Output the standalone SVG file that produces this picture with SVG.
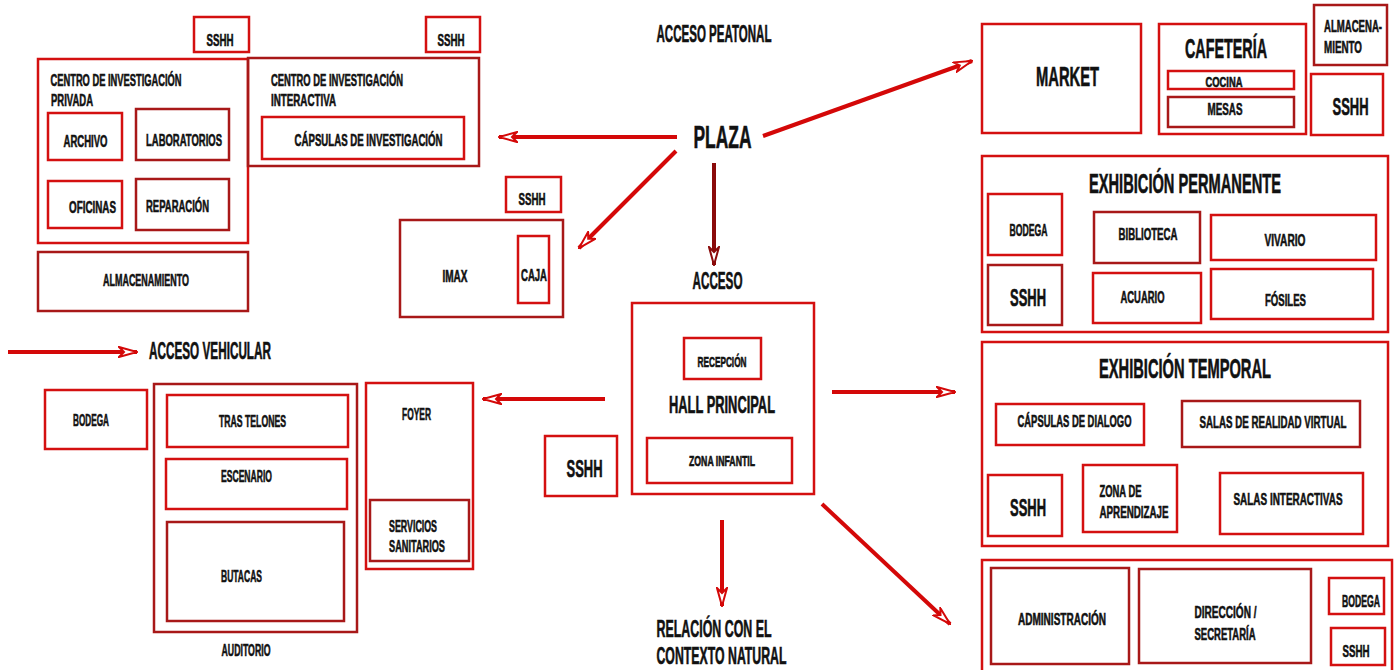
<svg xmlns="http://www.w3.org/2000/svg" width="1399" height="670" viewBox="0 0 1399 670">
<style>
rect{fill:none;stroke:#d41010;stroke-width:2.5}
rect.d{stroke:#a81818}
text{font-family:"Liberation Sans Narrow","Liberation Sans",Arial,sans-serif;font-weight:bold;fill:#111;stroke:#111;stroke-width:0.6;text-anchor:middle}
.s{font-size:17px}
.xs{font-size:14px}
.m{font-size:23px}
.l{font-size:27px}
.xl{font-size:31px}
.arr{stroke:#d40808;stroke-width:4;fill:none;marker-end:url(#ah)}
.arr2{stroke:#8a0a0a;stroke-width:4;fill:none;marker-end:url(#ah2)}
</style>
<defs>
<marker id="ah" viewBox="0 0 20 12" refX="19" refY="6" markerWidth="20" markerHeight="12" markerUnits="userSpaceOnUse" orient="auto">
<path d="M1,1 L19,6 L1,11 L6,6 Z" fill="#fff" stroke="#d40808" stroke-width="2"/>
</marker>
<marker id="ah2" viewBox="0 0 20 12" refX="19" refY="6" markerWidth="20" markerHeight="12" markerUnits="userSpaceOnUse" orient="auto">
<path d="M1,1 L19,6 L1,11 L6,6 Z" fill="#fff" stroke="#8a0a0a" stroke-width="2"/>
</marker>
</defs>
<rect x="0" y="0" width="1399" height="670" style="fill:#fff;stroke:none"/>

<g id="connectors">
<line class="arr" x1="677" y1="137" x2="499" y2="137"/>
<line class="arr" x1="676" y1="151" x2="579" y2="248"/>
<line class="arr2" x1="714" y1="163" x2="714" y2="265"/>
<line class="arr" x1="763" y1="136" x2="972" y2="61"/>
<line class="arr" x1="8" y1="352" x2="137" y2="352"/>
<line class="arr" x1="605" y1="399" x2="483" y2="399"/>
<line class="arr" x1="832" y1="392" x2="955" y2="392"/>
<line class="arr" x1="722" y1="520" x2="722" y2="606"/>
<line class="arr" x1="822" y1="504" x2="950" y2="624"/>
</g>

<g id="labels">
<text class="m" transform="translate(714,41.5) scale(.6,1)" textLength="191.7" lengthAdjust="spacingAndGlyphs">ACCESO PEATONAL</text>
<text class="xl" transform="translate(722.5,148) scale(.6,1)" textLength="96.7" lengthAdjust="spacingAndGlyphs">PLAZA</text>
<text class="m" transform="translate(717.5,288.5) scale(.6,1)" textLength="83.3" lengthAdjust="spacingAndGlyphs">ACCESO</text>
<text class="m" transform="translate(210,359) scale(.6,1)" textLength="203.3" lengthAdjust="spacingAndGlyphs">ACCESO VEHICULAR</text>
<text class="m" transform="translate(714,636.5) scale(.6,1)" textLength="191.7" lengthAdjust="spacingAndGlyphs">RELACIÓN CON  EL</text>
<text class="m" transform="translate(721.5,664) scale(.6,1)" textLength="216.7" lengthAdjust="spacingAndGlyphs">CONTEXTO NATURAL</text>
</g>

<g id="sshh-privada">
<rect x="194" y="17" width="55" height="35"/>
<text class="s" transform="translate(220,46) scale(.6,1)" textLength="45" lengthAdjust="spacingAndGlyphs">SSHH</text>
</g>
<g id="sshh-interactiva">
<rect x="426" y="17" width="54" height="35"/>
<text class="s" transform="translate(451,46) scale(.6,1)" textLength="45" lengthAdjust="spacingAndGlyphs">SSHH</text>
</g>

<g id="centro-privada">
<rect x="38" y="59" width="210" height="184"/>
<text class="s" transform="translate(116,86) scale(.6,1)" textLength="218.3" lengthAdjust="spacingAndGlyphs">CENTRO DE INVESTIGACIÓN</text>
<text class="s" transform="translate(72,106) scale(.6,1)" textLength="70" lengthAdjust="spacingAndGlyphs">PRIVADA</text>
<g id="archivo"><rect x="48" y="113" width="74" height="47"/>
<text class="s" transform="translate(85.5,147) scale(.6,1)" textLength="73.3" lengthAdjust="spacingAndGlyphs">ARCHIVO</text></g>
<g id="laboratorios"><rect class="d" x="136" y="109" width="93" height="51"/>
<text class="s" transform="translate(184,146) scale(.6,1)" textLength="126.7" lengthAdjust="spacingAndGlyphs">LABORATORIOS</text></g>
<g id="oficinas"><rect x="48" y="181" width="74" height="47"/>
<text class="s" transform="translate(92.5,213) scale(.6,1)" textLength="78.3" lengthAdjust="spacingAndGlyphs">OFICINAS</text></g>
<g id="reparacion"><rect class="d" x="136" y="179" width="93" height="51"/>
<text class="s" transform="translate(177.5,212) scale(.6,1)" textLength="105" lengthAdjust="spacingAndGlyphs">REPARACIÓN</text></g>
</g>

<g id="almacenamiento">
<rect class="d" x="38" y="252" width="210" height="59"/>
<text class="s" transform="translate(146,286) scale(.6,1)" textLength="143.3" lengthAdjust="spacingAndGlyphs">ALMACENAMIENTO</text>
</g>

<g id="centro-interactiva">
<rect class="d" x="248" y="58" width="231" height="108"/>
<text class="s" transform="translate(337,86) scale(.6,1)" textLength="220" lengthAdjust="spacingAndGlyphs">CENTRO DE INVESTIGACIÓN</text>
<text class="s" transform="translate(303.5,106) scale(.6,1)" textLength="108.3" lengthAdjust="spacingAndGlyphs">INTERACTIVA</text>
<g id="capsulas-inv"><rect x="262" y="117" width="202" height="42"/>
<text class="s" transform="translate(368.5,146) scale(.6,1)" textLength="246.7" lengthAdjust="spacingAndGlyphs">CÁPSULAS DE INVESTIGACIÓN</text></g>
</g>

<g id="sshh-imax">
<rect x="506" y="177" width="55" height="35"/>
<text class="s" transform="translate(532,205) scale(.6,1)" textLength="45" lengthAdjust="spacingAndGlyphs">SSHH</text>
</g>
<g id="imax">
<rect class="d" x="400" y="220" width="163" height="97"/>
<text class="s" transform="translate(455,282) scale(.6,1)" textLength="41.7" lengthAdjust="spacingAndGlyphs">IMAX</text>
<g id="caja"><rect x="518" y="236" width="31" height="67"/>
<text class="s" transform="translate(534,281) scale(.6,1)" textLength="43.3" lengthAdjust="spacingAndGlyphs">CAJA</text></g>
</g>

<g id="hall">
<rect x="632" y="303" width="182" height="191"/>
<text class="m" transform="translate(722,413) scale(.6,1)" textLength="176.7" lengthAdjust="spacingAndGlyphs">HALL PRINCIPAL</text>
<g id="recepcion"><rect x="684" y="338" width="77" height="41"/>
<text class="xs" transform="translate(722,366.5) scale(.6,1)" textLength="81.7" lengthAdjust="spacingAndGlyphs">RECEPCIÓN</text></g>
<g id="zona-infantil"><rect x="647" y="438" width="145" height="45"/>
<text class="xs" transform="translate(722,466) scale(.6,1)" textLength="110" lengthAdjust="spacingAndGlyphs">ZONA INFANTIL</text></g>
</g>

<g id="sshh-hall">
<rect x="545" y="436" width="72" height="60"/>
<text class="m" transform="translate(584.5,476.5) scale(.6,1)" textLength="60" lengthAdjust="spacingAndGlyphs">SSHH</text>
</g>

<g id="bodega-aud">
<rect x="45" y="390" width="102" height="59"/>
<text class="s" transform="translate(91,426) scale(.6,1)" textLength="60" lengthAdjust="spacingAndGlyphs">BODEGA</text>
</g>

<g id="auditorio">
<rect class="d" x="154" y="384" width="203" height="248"/>
<text class="s" transform="translate(246,655.5) scale(.6,1)" textLength="81.7" lengthAdjust="spacingAndGlyphs">AUDITORIO</text>
<g id="tras-telones"><rect x="167" y="395" width="181" height="52"/>
<text class="s" transform="translate(252.5,426.5) scale(.6,1)" textLength="111.7" lengthAdjust="spacingAndGlyphs">TRAS TELONES</text></g>
<g id="escenario"><rect x="166" y="459" width="181" height="50"/>
<text class="s" transform="translate(246.5,481.5) scale(.6,1)" textLength="85" lengthAdjust="spacingAndGlyphs">ESCENARIO</text></g>
<g id="butacas"><rect class="d" x="167" y="522" width="177" height="99"/>
<text class="s" transform="translate(241.5,582) scale(.6,1)" textLength="68.3" lengthAdjust="spacingAndGlyphs">BUTACAS</text></g>
</g>

<g id="foyer">
<rect x="366" y="383" width="107" height="186"/>
<text class="s" transform="translate(416.5,420) scale(.6,1)" textLength="48.3" lengthAdjust="spacingAndGlyphs">FOYER</text>
<g id="servicios"><rect class="d" x="370" y="500" width="99" height="61"/>
<text class="s" transform="translate(413,532) scale(.6,1)" textLength="80" lengthAdjust="spacingAndGlyphs">SERVICIOS</text>
<text class="s" transform="translate(417,552) scale(.6,1)" textLength="93.3" lengthAdjust="spacingAndGlyphs">SANITARIOS</text></g>
</g>

<g id="market">
<rect x="982" y="24" width="159" height="109"/>
<text class="l" transform="translate(1067.5,86) scale(.6,1)" textLength="105" lengthAdjust="spacingAndGlyphs">MARKET</text>
</g>

<g id="cafeteria">
<rect x="1159" y="24" width="147" height="110"/>
<text class="l" transform="translate(1226,58) scale(.6,1)" textLength="136.7" lengthAdjust="spacingAndGlyphs">CAFETERÍA</text>
<g id="cocina"><rect x="1168" y="71" width="126" height="18"/>
<text class="xs" transform="translate(1224,87) scale(.6,1)" textLength="61.7" lengthAdjust="spacingAndGlyphs">COCINA</text></g>
<g id="mesas"><rect class="d" x="1168" y="97" width="126" height="30"/>
<text class="s" transform="translate(1225,115) scale(.6,1)" textLength="58.3" lengthAdjust="spacingAndGlyphs">MESAS</text></g>
</g>

<g id="almacenamiento-caf">
<rect class="d" x="1314" y="5" width="73" height="60"/>
<text class="s" transform="translate(1353,32) scale(.6,1)" textLength="96.7" lengthAdjust="spacingAndGlyphs">ALMACENA-</text>
<text class="s" transform="translate(1343,53) scale(.6,1)" textLength="63.3" lengthAdjust="spacingAndGlyphs">MIENTO</text>
</g>
<g id="sshh-caf">
<rect x="1311" y="74" width="72" height="61"/>
<text class="m" transform="translate(1350.5,115) scale(.6,1)" textLength="60" lengthAdjust="spacingAndGlyphs">SSHH</text>
</g>

<g id="exhibicion-permanente">
<rect x="982" y="156" width="406" height="176"/>
<text class="l" transform="translate(1185,193) scale(.6,1)" textLength="320" lengthAdjust="spacingAndGlyphs">EXHIBICIÓN PERMANENTE</text>
<g id="bodega-perm"><rect x="988" y="194" width="74" height="61"/>
<text class="s" transform="translate(1028.5,236) scale(.6,1)" textLength="63.3" lengthAdjust="spacingAndGlyphs">BODEGA</text></g>
<g id="sshh-perm"><rect class="d" x="988" y="265" width="74" height="60"/>
<text class="m" transform="translate(1028,305.5) scale(.6,1)" textLength="60" lengthAdjust="spacingAndGlyphs">SSHH</text></g>
<g id="biblioteca"><rect class="d" x="1094" y="212" width="106" height="51"/>
<text class="s" transform="translate(1148,240) scale(.6,1)" textLength="98.3" lengthAdjust="spacingAndGlyphs">BIBLIOTECA</text></g>
<g id="vivario"><rect x="1211" y="215" width="165" height="45"/>
<text class="s" transform="translate(1285,246) scale(.6,1)" textLength="68.3" lengthAdjust="spacingAndGlyphs">VIVARIO</text></g>
<g id="acuario"><rect x="1093" y="273" width="108" height="50"/>
<text class="s" transform="translate(1142.5,302.5) scale(.6,1)" textLength="73.3" lengthAdjust="spacingAndGlyphs">ACUARIO</text></g>
<g id="fosiles"><rect x="1211" y="269" width="162" height="50"/>
<text class="s" transform="translate(1285.5,306) scale(.6,1)" textLength="68.3" lengthAdjust="spacingAndGlyphs">FÓSILES</text></g>
</g>

<g id="exhibicion-temporal">
<rect x="982" y="342" width="406" height="204"/>
<text class="l" transform="translate(1185,378) scale(.6,1)" textLength="286.7" lengthAdjust="spacingAndGlyphs">EXHIBICIÓN TEMPORAL</text>
<g id="capsulas-dialogo"><rect x="996" y="404" width="148" height="41"/>
<text class="s" transform="translate(1074.5,426.5) scale(.6,1)" textLength="190" lengthAdjust="spacingAndGlyphs">CÁPSULAS DE DIALOGO</text></g>
<g id="realidad-virtual"><rect class="d" x="1182" y="401" width="178" height="46"/>
<text class="s" transform="translate(1273,428) scale(.6,1)" textLength="245" lengthAdjust="spacingAndGlyphs">SALAS DE REALIDAD VIRTUAL</text></g>
<g id="sshh-temp"><rect x="988" y="475" width="74" height="61"/>
<text class="m" transform="translate(1028,515.5) scale(.6,1)" textLength="60" lengthAdjust="spacingAndGlyphs">SSHH</text></g>
<g id="zona-aprendizaje"><rect x="1083" y="465" width="94" height="67"/>
<text class="s" transform="translate(1120.5,496.5) scale(.6,1)" textLength="70" lengthAdjust="spacingAndGlyphs">ZONA DE</text>
<text class="s" transform="translate(1134,518) scale(.6,1)" textLength="115" lengthAdjust="spacingAndGlyphs">APRENDIZAJE</text></g>
<g id="salas-interactivas"><rect x="1220" y="473" width="143" height="61"/>
<text class="s" transform="translate(1288,505) scale(.6,1)" textLength="181.7" lengthAdjust="spacingAndGlyphs">SALAS INTERACTIVAS</text></g>
</g>

<g id="administracion-bloque">
<rect x="982" y="560" width="410" height="112"/>
<g id="administracion"><rect class="d" x="991" y="568" width="138" height="96"/>
<text class="s" transform="translate(1062,625) scale(.6,1)" textLength="146.7" lengthAdjust="spacingAndGlyphs">ADMINISTRACIÓN</text></g>
<g id="direccion"><rect class="d" x="1139" y="569" width="172" height="94"/>
<text class="s" transform="translate(1225.5,618) scale(.6,1)" textLength="103.3" lengthAdjust="spacingAndGlyphs">DIRECCIÓN /</text>
<text class="s" transform="translate(1225,640) scale(.6,1)" textLength="101.7" lengthAdjust="spacingAndGlyphs">SECRETARÍA</text></g>
<g id="bodega-admin"><rect x="1329" y="578" width="55" height="36"/>
<text class="s" transform="translate(1361,607) scale(.6,1)" textLength="63.3" lengthAdjust="spacingAndGlyphs">BODEGA</text></g>
<g id="sshh-admin"><rect x="1331" y="628" width="54" height="37"/>
<text class="s" transform="translate(1356,657) scale(.6,1)" textLength="45" lengthAdjust="spacingAndGlyphs">SSHH</text></g>
</g>
</svg>
